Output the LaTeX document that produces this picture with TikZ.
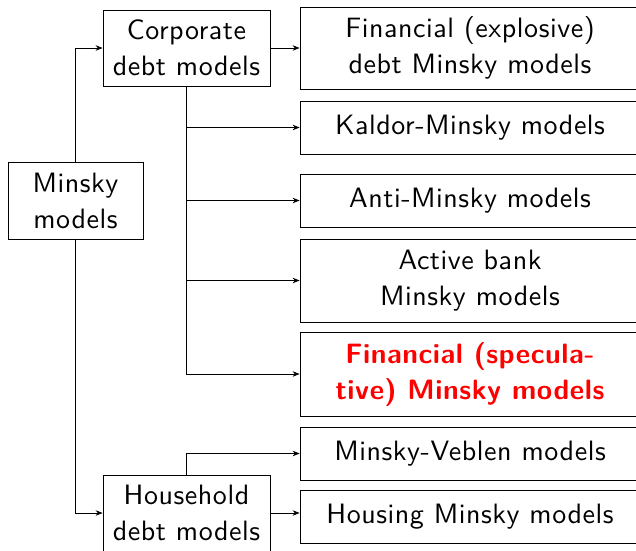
\documentclass[tikz,border=0pt]{standalone}
\usepackage{fontspec}
\setsansfont{lmsans10-regular.otf}[BoldFont=lmsans10-bold.otf, LetterSpace=2]
\usetikzlibrary{arrows.meta}
\begin{document}
\begin{tikzpicture}[x=1pt,y=-1pt,
  box/.style={draw, line width=0.8pt, align=center, inner sep=0pt,
    font=\sffamily\fontsize{28}{36}\selectfont},
  conn/.style={line width=0.8pt, -{Stealth[length=7pt,width=5.5pt]}},
  hot/.style={text=red, font=\sffamily\bfseries\fontsize{28}{36}\selectfont}]
\useasboundingbox (0,0) rectangle (636,550);
\clip (0,0) rectangle (636,550);
\node[box, minimum width=135pt, minimum height=77pt] (mm) at (75.5,200.5) {Minsky\\models};
\node[box, minimum width=167pt, minimum height=76pt] (cdm) at (186.5,48) {Corporate\\debt models};
\node[box, minimum width=167pt, minimum height=76pt] (hdm) at (186.5,513) {Household\\debt models};
\node[box, minimum width=340pt, minimum height=82pt] (r1) at (470,48) {Financial (explosive)\\debt Minsky models};
\node[box, minimum width=340pt, minimum height=53pt] (r2) at (470,127.5) {Kaldor-Minsky models};
\node[box, minimum width=340pt, minimum height=53pt] (r3) at (470,200.5) {Anti-Minsky models};
\node[box, minimum width=340pt, minimum height=83pt] (r4) at (470,280.5) {Active bank\\Minsky models};
\node[box, hot, minimum width=340pt, minimum height=84pt] (r5) at (470,374) {Financial (specula-\\tive) Minsky models};
\node[box, minimum width=340pt, minimum height=53pt] (r6) at (470,453.5) {Minsky-Veblen models};
\node[box, minimum width=340pt, minimum height=53pt] (r7) at (470,516.5) {Housing Minsky models};
\draw[conn] (mm.north) |- (cdm.west);
\draw[conn] (mm.south) |- (hdm.west);
\draw[conn] (cdm.east) -- (r1.west);
\draw[conn] (cdm.south) |- (r2.west);
\draw[conn] (cdm.south) |- (r3.west);
\draw[conn] (cdm.south) |- (r4.west);
\draw[conn] (cdm.south) |- (r5.west);
\draw[conn] (hdm.north) |- (r6.west);
\draw[conn] (hdm.east) -- (hdm.east -| r7.west);
\end{tikzpicture}
\end{document}
